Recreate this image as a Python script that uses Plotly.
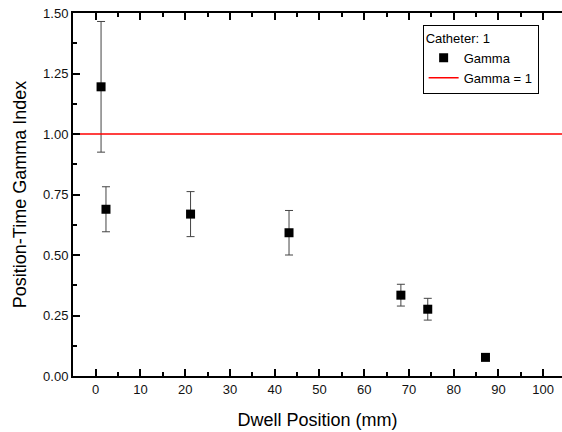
import plotly.graph_objects as go

dwell_position = [1.2, 2.3, 21.2, 43.2, 68.2, 74.2, 87.1]
gamma_index = [1.195, 0.689, 0.669, 0.592, 0.334, 0.276, 0.077]
gamma_error = [0.27, 0.093, 0.093, 0.092, 0.045, 0.045, 0.0]
gamma_threshold = 1.0
x_range = [-5.07, 104.2]
y_range = [0, 1.5]

font = "Liberation Sans, Arial, sans-serif"

fig = go.Figure()
fig.add_trace(go.Scatter(
    x=dwell_position, y=gamma_index, mode="markers", name="Gamma",
    marker=dict(symbol="square", size=9, color="black"),
    error_y=dict(type="data", array=gamma_error, visible=True,
                 color="#444444", thickness=1, width=4),
))
fig.add_trace(go.Scatter(
    x=x_range, y=[gamma_threshold, gamma_threshold], mode="lines",
    name="Gamma = 1", line=dict(color="red", width=1.5),
))

fig.update_layout(
    width=562, height=432,
    margin=dict(l=73, r=0, t=13, b=56),
    plot_bgcolor="white", paper_bgcolor="white",
    font=dict(family=font, color="black", size=13),
    showlegend=True,
    legend=dict(
        title=dict(text="Catheter: 1", font=dict(size=13)),
        x=0.715, y=0.967, xanchor="left", yanchor="top",
        bordercolor="black", borderwidth=1, bgcolor="white",
        font=dict(size=13), tracegroupgap=0, itemwidth=30,
    ),
    xaxis=dict(
        range=x_range, dtick=10, tick0=0, ticks="inside", ticklen=7,
        tickwidth=1.5, tickcolor="black", showline=True, linecolor="black",
        linewidth=2, mirror="ticks", showgrid=False, zeroline=False,
        tickfont=dict(size=13, color="#111"),
        minor=dict(dtick=5, ticks="inside", ticklen=4, tickcolor="black", tickwidth=1.5),
        title=dict(text="Dwell Position (mm)", font=dict(size=18), standoff=18),
    ),
    yaxis=dict(
        range=y_range, dtick=0.25, tick0=0, ticks="inside", ticklen=7,
        tickwidth=1.5, tickcolor="black", showline=True, linecolor="black",
        linewidth=2, showgrid=False, zeroline=False, tickformat=".2f",
        tickfont=dict(size=13, color="#111"),
        minor=dict(dtick=0.125, ticks="inside", ticklen=4, tickcolor="black", tickwidth=1.5),
        title=dict(text="Position-Time Gamma Index", font=dict(size=18), standoff=12),
    ),
)

fig.write_html("out.html")
